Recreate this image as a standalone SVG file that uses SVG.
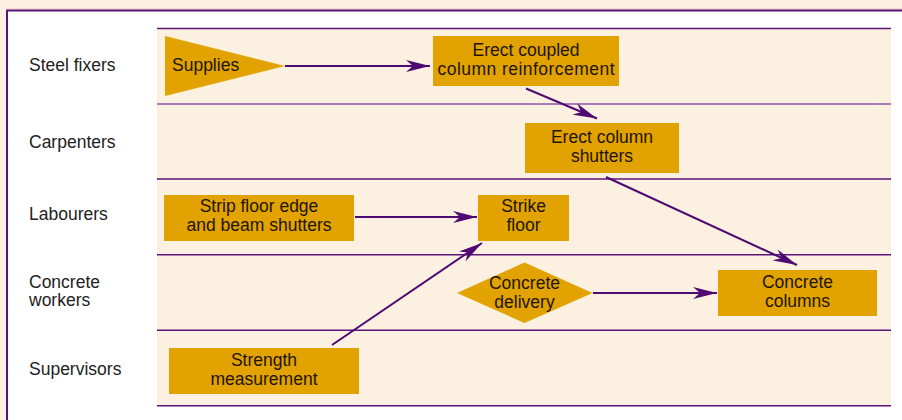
<svg xmlns="http://www.w3.org/2000/svg" width="902" height="420" viewBox="0 0 902 420">
  <style>
    .lane-label { font-family: "Liberation Sans", Arial, sans-serif; font-size: 17.5px; fill: #222222; }
    .node-text { font-family: "Liberation Sans", Arial, sans-serif; font-size: 17.5px; fill: #1E1400; text-anchor: middle; }
    .node-shape { fill: #E2A300; }
    .lane-line { stroke: #5C1478; stroke-width: 1.6; }
    .lane-line-light { stroke: #A87DB8; stroke-width: 2; }
    .conn { stroke: #4E0A72; stroke-width: 2; fill: none; marker-end: url(#arrow); }
  </style>
  <defs>
    <marker id="arrow" markerUnits="userSpaceOnUse" viewBox="0 0 24 12" refX="24" refY="6" markerWidth="24" markerHeight="12" orient="auto">
      <path d="M0,0 L24,6 L0,12 L7,6 Z" fill="#4E0A72"/>
    </marker>
  </defs>

  <!-- page background -->
  <rect x="0" y="0" width="902" height="420" fill="#FCF0E0"/>
  <line x1="7" y1="9" x2="902" y2="9" stroke="#E6C8CC" stroke-width="1"/>
  <!-- outer frame -->
  <rect x="7" y="10.5" width="910" height="420" fill="#FFFFFF" stroke="#5C1478" stroke-width="2"/>

  <!-- lane background -->
  <rect x="157" y="28.5" width="734" height="377" fill="#FCF0E0"/>

  <!-- lane lines -->
  <g id="lanes">
    <line class="lane-line" x1="157" y1="28.5" x2="891" y2="28.5"/>
    <line class="lane-line-light" x1="157" y1="104" x2="891" y2="104"/>
    <line class="lane-line" x1="157" y1="179" x2="891" y2="179"/>
    <line class="lane-line" x1="157" y1="254.7" x2="891" y2="254.7"/>
    <line class="lane-line" x1="157" y1="330.3" x2="891" y2="330.3"/>
    <line class="lane-line" x1="157" y1="405.7" x2="891" y2="405.7"/>
  </g>

  <!-- lane labels -->
  <g id="lane-labels">
    <text class="lane-label" x="29" y="71">Steel fixers</text>
    <text class="lane-label" x="29" y="148">Carpenters</text>
    <text class="lane-label" x="29" y="220">Labourers</text>
    <text class="lane-label" x="29" y="288">Concrete</text>
    <text class="lane-label" x="29" y="306">workers</text>
    <text class="lane-label" x="29" y="375">Supervisors</text>
  </g>

  <!-- connectors -->
  <g id="connectors">
    <line class="conn" x1="285" y1="66" x2="430" y2="66"/>
    <line class="conn" x1="526" y1="88.5" x2="597" y2="118.5"/>
    <line class="conn" x1="606" y1="177" x2="797" y2="265"/>
    <line class="conn" x1="355" y1="217" x2="477" y2="217"/>
    <line class="conn" x1="332" y1="345" x2="482" y2="243"/>
    <line class="conn" x1="593" y1="293" x2="717" y2="293"/>
  </g>

  <!-- nodes -->
  <g id="supplies">
    <polygon class="node-shape" points="165,36 285,66 165,96"/>
    <text class="node-text" x="172" y="71" style="text-anchor:start">Supplies</text>
  </g>
  <g id="erect-coupled">
    <rect class="node-shape" x="433" y="36" width="186" height="50"/>
    <text class="node-text" x="526" y="56">Erect coupled</text>
    <text class="node-text" x="526" y="75" textLength="177" lengthAdjust="spacing">column reinforcement</text>
  </g>
  <g id="erect-column-shutters">
    <rect class="node-shape" x="525" y="123" width="154" height="50"/>
    <text class="node-text" x="602" y="143">Erect column</text>
    <text class="node-text" x="602" y="162">shutters</text>
  </g>
  <g id="strip-floor">
    <rect class="node-shape" x="164" y="195" width="190" height="46"/>
    <text class="node-text" x="259" y="212">Strip floor edge</text>
    <text class="node-text" x="259" y="231">and beam shutters</text>
  </g>
  <g id="strike-floor">
    <rect class="node-shape" x="478" y="195" width="91" height="46"/>
    <text class="node-text" x="523.5" y="211.5">Strike</text>
    <text class="node-text" x="523.5" y="230.5">floor</text>
  </g>
  <g id="concrete-delivery">
    <polygon class="node-shape" points="457,293 524.5,262.5 592.5,293 524.5,323"/>
    <text class="node-text" x="524.5" y="288.5">Concrete</text>
    <text class="node-text" x="524.5" y="307.5">delivery</text>
  </g>
  <g id="concrete-columns">
    <rect class="node-shape" x="718" y="270" width="159" height="46"/>
    <text class="node-text" x="797.5" y="288">Concrete</text>
    <text class="node-text" x="797.5" y="306.5">columns</text>
  </g>
  <g id="strength">
    <rect class="node-shape" x="169" y="348" width="190" height="46"/>
    <text class="node-text" x="264" y="366">Strength</text>
    <text class="node-text" x="264" y="384.5">measurement</text>
  </g>
</svg>
